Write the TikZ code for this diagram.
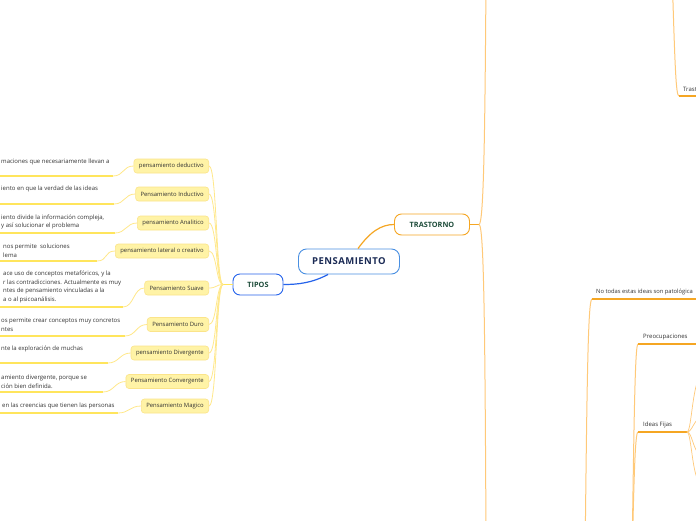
\documentclass[tikz,border=0pt]{standalone}
\usepackage{fontspec}
\setmainfont{Open Sans}
\newfontfamily\titlefont[LetterSpace=5]{Open Sans}
\usetikzlibrary{calc}
\definecolor{pblue}{HTML}{4A90E2}
\definecolor{tblue}{HTML}{2563EB}
\definecolor{orng}{HTML}{F5A623}
\definecolor{lorng}{HTML}{FFC978}
\definecolor{yfill}{HTML}{FFF3A6}
\definecolor{ydraw}{HTML}{FBE48A}
\definecolor{ylinec}{HTML}{FFE55C}
\definecolor{ythinc}{HTML}{FFE88A}
\definecolor{navy}{HTML}{1B2B55}
\definecolor{dgreen}{HTML}{1F4D3B}
\definecolor{txt}{HTML}{333333}
\begin{document}
\begin{tikzpicture}[x=1pt,y=-1pt,
  mainbox/.style={draw=pblue, line width=0.9pt, fill=white, rounded corners=8pt,
    minimum width=101pt, minimum height=25pt, inner sep=0pt,
    font=\titlefont\bfseries\fontsize{9.5}{11}\selectfont, text=navy},
  topicbox/.style={line width=0.9pt, fill=white, rounded corners=7pt,
    minimum height=21pt, inner sep=0pt,
    font=\bfseries\fontsize{7.3}{9}\selectfont, text=dgreen},
  subbox/.style={fill=yfill, draw=ydraw, line width=0.6pt, rounded corners=3pt,
    minimum height=14pt, inner xsep=5pt, inner ysep=0pt,
    font=\fontsize{5.9}{7}\selectfont, text=txt, anchor=east},
  lbltext/.style={inner sep=0pt, font=\fontsize{6.0}{8.7}\selectfont, text=txt,
    align=left, anchor=west},
  yul/.style={draw=ylinec, line width=1.8pt},
  ythinl/.style={draw=ythinc, line width=0.8pt},
  oul/.style={draw=orng, line width=1.8pt},
  othin/.style={draw=lorng, line width=1pt}
]
\useasboundingbox (0,0) rectangle (696,520);
\fill[white] (0,0) rectangle (696,520);
\clip (0,0) rectangle (696,520);

% central nodes
\node[mainbox] (P) at (349,261.5) {PENSAMIENTO};
\node[topicbox, draw=orng, minimum width=75pt] (T) at (432,224.5) {TRASTORNO};
\node[topicbox, draw=tblue, minimum width=50pt] (TI) at (258,284.5) {TIPOS};

\draw[draw=orng, line width=1.2pt] ([xshift=9pt]P.north) .. controls (370,232) and (381,224.5) .. (T.west);
\draw[draw=tblue, line width=1.2pt] ([xshift=-21pt]P.south) .. controls (312,283) and (298,284.5) .. (TI.east);

% TRASTORNO branches
\coordinate (Tb) at (479,224.5);
\coordinate (Tup) at (486,-20);
\coordinate (Tdn) at (486,540);
\draw[draw=orng, line width=1.2pt] (T.east) -- (Tb);
\draw[othin] (Tb) .. controls (484,224.5) and (485,120) .. (Tup);
\draw[othin] (Tb) .. controls (484,224.5) and (485,330) .. (Tdn);

% top right
\coordinate (TRsrc) at (672,-30);
\coordinate (TRa) at (679,96);
\coordinate (TRb) at (700,96);
\draw[othin] (TRsrc) .. controls (675,70) and (676,96) .. (TRa);
\draw[oul] (TRa) -- (TRb);
\node[lbltext] (TRl) at (683,89) {Trast};

% No todas
\coordinate (NTsrc) at (585,560);
\coordinate (NTa) at (592,299);
\coordinate (NTb) at (700,299);
\draw[othin] (NTsrc) .. controls (587,380) and (588,299) .. (NTa);
\draw[oul] (NTa) -- (NTb);
\node[lbltext, font=\fontsize{5.8}{8.7}\selectfont] (NT) at (596,292) {No todas estas ideas son patológica};

% Preocupaciones / Ideas fijas
\coordinate (PRsrc) at (632,560);
\coordinate (PRa) at (638,344);
\coordinate (PRb) at (700,344);
\draw[othin] (PRsrc) .. controls (634,420) and (635,344) .. (PRa);
\draw[oul] (PRa) -- (PRb);
\node[lbltext] (PR) at (643,337.5) {Preocupaciones};

\coordinate (IFa) at (638,432);
\coordinate (IFb) at (687,432);
\draw[othin] (PRsrc) .. controls (634,480) and (635,432) .. (IFa);
\draw[oul] (IFa) -- (IFb);
\node[lbltext] (IF) at (643,425) {Ideas Fijas};
\coordinate (C1) at (698,380);
\coordinate (C2) at (700,418);
\coordinate (C3) at (700,455);
\coordinate (C4) at (698,480);
\draw[othin, line width=0.7pt] (IFb) .. controls (691,432) and (692,395) .. (C1);
\draw[othin, line width=0.7pt] (IFb) .. controls (692,432) and (694,420) .. (C2);
\draw[othin, line width=0.7pt] (IFb) .. controls (692,432) and (693,450) .. (C3);
\draw[othin, line width=0.7pt] (IFb) .. controls (691,432) and (692,470) .. (C4);

% TIPOS children
\coordinate (F) at (223,284.5);
\draw[draw=ylinec, line width=1.6pt] (TI.west) -- (F);

\node[subbox] (s1) at (209,166) {pensamiento deductivo};
\node[subbox] (s2) at (209,194) {Pensamiento Inductivo};
\node[subbox] (s3) at (209,223) {pensamiento Analitico};
\node[subbox] (s4) at (209,251) {pensamiento lateral o creativo};
\node[subbox] (s5) at (209,288) {Pensamiento Suave};
\node[subbox] (s6) at (209,324.5) {Pensamiento Duro};
\node[subbox] (s7) at (209,353) {pensamiento Divergente};
\node[subbox] (s8) at (209,381.5) {Pensamiento Convergente};
\node[subbox] (s9) at (209,406) {Pensamiento Magico};

\foreach \n in {s1,s2,s3,s4,s5,s6,s7,s8,s9}
  \draw[ythinl] (F) .. controls (216,284.5) and ([xshift=8pt]\n.east) .. (\n.east);

% labels
\node[lbltext] (l1) at (1,162) {maciones que necesariamente llevan a};
\node[lbltext] (l2) at (1,189) {iento en que la verdad de las ideas};
\node[lbltext] (l3) at (1,222) {iento divide la información compleja,\\y así solucionar el problema};
\node[lbltext] (l4) at (3,250.5) {nos permite~ soluciones\\lema};
\node[lbltext] (l5) at (3,287) {ace uso de conceptos metafóricos, y la\\r las contradicciones. Actualmente es muy\\ntes de pensamiento vinculadas a la\\a o al psicoanálisis.};
\node[lbltext] (l6) at (1,325) {os permite crear conceptos muy concretos\\ntes};
\node[lbltext] (l7) at (1,349) {nte la exploración de muchas};
\node[lbltext] (l8) at (1,381.5) {amiento divergente, porque se\\ción bien definida.};
\node[lbltext] (l9) at (2,406) {en las creencias que tienen las personas};

% underlines
\foreach \k/\yy/\xe in {1/176/113, 2/204/114, 3/233/115, 4/261/97, 5/307/123, 6/336/125, 7/363/108, 8/392/103, 9/413/118} {
  \coordinate (us\k) at (-5,\yy);
  \coordinate (ue\k) at (\xe,\yy);
  \draw[yul] (us\k) -- (ue\k);
  \draw[ythinl] (ue\k) .. controls +(11,0) and +(-11,0) .. (s\k.west);
}
\end{tikzpicture}
\end{document}
